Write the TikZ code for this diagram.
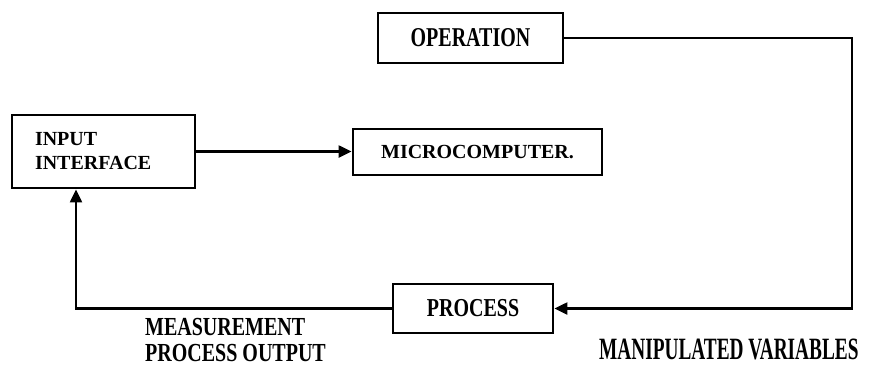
\documentclass[tikz,border=0pt]{standalone}
\usepackage{fontspec}
\setmainfont{Liberation Serif}
\usetikzlibrary{arrows.meta}
\begin{document}
\begin{tikzpicture}[x=1pt,y=-1pt,
  box/.style={draw=black,line width=2.8pt,inner sep=0pt,font=\fontsize{20}{24}\selectfont\bfseries},
  conn/.style={line width=2.2pt,-{Triangle[length=13pt,width=12pt]}},
  lbl/.style={inner sep=0pt,font=\fontsize{20}{22}\selectfont\bfseries}]
\useasboundingbox (0,0) rectangle (874,368);
\node[box,minimum width=183pt,minimum height=73pt,text width=137pt,inner xsep=23pt,align=left] (input) at (103.5,151.5) {INPUT\\INTERFACE};
\node[box,minimum width=249pt,minimum height=46pt] (micro) at (477.5,152) {MICROCOMPUTER.};
\node[box,minimum width=185pt,minimum height=50pt] (operation) at (470.5,38) {\scalebox{1}[1.36]{OPERATION}};
\node[box,minimum width=160pt,minimum height=49pt] (process) at (473,308.5) {\scalebox{1}[1.29]{PROCESS}};
\node[lbl,anchor=west,align=left] (meas) at (145,340) {\scalebox{1}[1.3]{MEASUREMENT}\\[4pt]\scalebox{1}[1.3]{PROCESS OUTPUT}};
\node[lbl,anchor=west] (manip) at (599,349) {\scalebox{0.965}[1.55]{MANIPULATED VARIABLES}};
\coordinate (rc) at (852,40);
\coordinate (lc) at (76,300);
\draw[conn] (input.east) -- (input.east -| micro.west);
\draw[conn] (operation.east) -- (operation.east -| rc) -- (rc |- process.east) -- (process.east);
\draw[conn] (process.west) -- (process.west -| lc) -- (lc |- input.south);
\end{tikzpicture}
\end{document}
